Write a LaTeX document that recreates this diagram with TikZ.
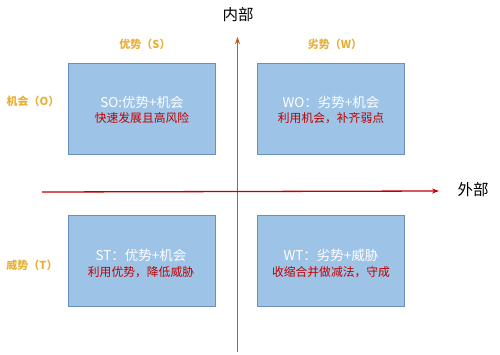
\documentclass[tikz,border=0pt]{standalone}
\usepackage{fontspec}
\setmainfont{Noto Sans CJK SC}
\usetikzlibrary{arrows.meta}
\definecolor{boxfill}{HTML}{9DC3E6}
\definecolor{boxline}{HTML}{6A8FBD}
\definecolor{axisv}{HTML}{C55A11}
\definecolor{axish}{HTML}{C00000}
\definecolor{lblgold}{HTML}{E8B035}
\definecolor{txtred}{HTML}{C00000}
\tikzset{
  quad/.style={draw=boxline, line width=0.9pt, fill=boxfill, minimum width=147pt, minimum height=91pt, inner sep=0pt},
  headtxt/.style={font=\fontsize{13.5}{15}\selectfont, text=white},
  subtxt/.style={font=\fontsize{11.8}{13}\selectfont, text=txtred},
  sidelbl/.style={font=\fontsize{11}{13}\selectfont\bfseries, text=lblgold},
  axislbl/.style={font=\fontsize{15.5}{17}\selectfont, text=black},
  arr/.style={line width=1.3pt, -{Stealth[length=7pt,width=5pt]}}
}
\begin{document}
\begin{tikzpicture}[x=1pt,y=-1pt]
\useasboundingbox (0,0) rectangle (500,354);
% quadrants
\node[quad] (so) at (141.5,108.5) {};
\node[quad] (wo) at (331,108.5) {};
\node[quad] (st) at (141.5,261) {};
\node[quad] (wt) at (331,261) {};
% axes
\coordinate (vstart) at (237.5,352);
\coordinate (vend) at (237.5,37);
\coordinate (hstart) at (42,192);
\coordinate (hend) at (439,191);
\draw[arr, draw=axisv, color=axisv] (vstart) -- (vend);
\draw[arr, draw=axish, color=axish] (hstart) -- (hend);
\node[axislbl] (inner) at (238,15) {内部};
\node[axislbl] (outer) at (473,190) {外部};
% side labels
\node[sidelbl] (lS) at (145,44) {优势（S）};
\node[sidelbl] (lW) at (335,44) {劣势（W）};
\node[sidelbl] (lO) at (33,101) {机会（O）};
\node[sidelbl] (lT) at (32,265) {威势（T）};
% quadrant texts
\node[headtxt] (so1) at (142,102) {SO:优势+机会};
\node[subtxt] (so2) at (142,118) {快速发展且高风险};
\node[headtxt] (wo1) at (331,102) {WO：劣势+机会};
\node[subtxt] (wo2) at (331,118) {利用机会，补齐弱点};
\node[headtxt] (st1) at (141,255) {ST：优势+机会};
\node[subtxt] (st2) at (141,272) {利用优势，降低威胁};
\node[headtxt] (wt1) at (331,255) {WT：劣势+威胁};
\node[subtxt] (wt2) at (331,272) {收缩合并做减法，守成};
\end{tikzpicture}
\end{document}
